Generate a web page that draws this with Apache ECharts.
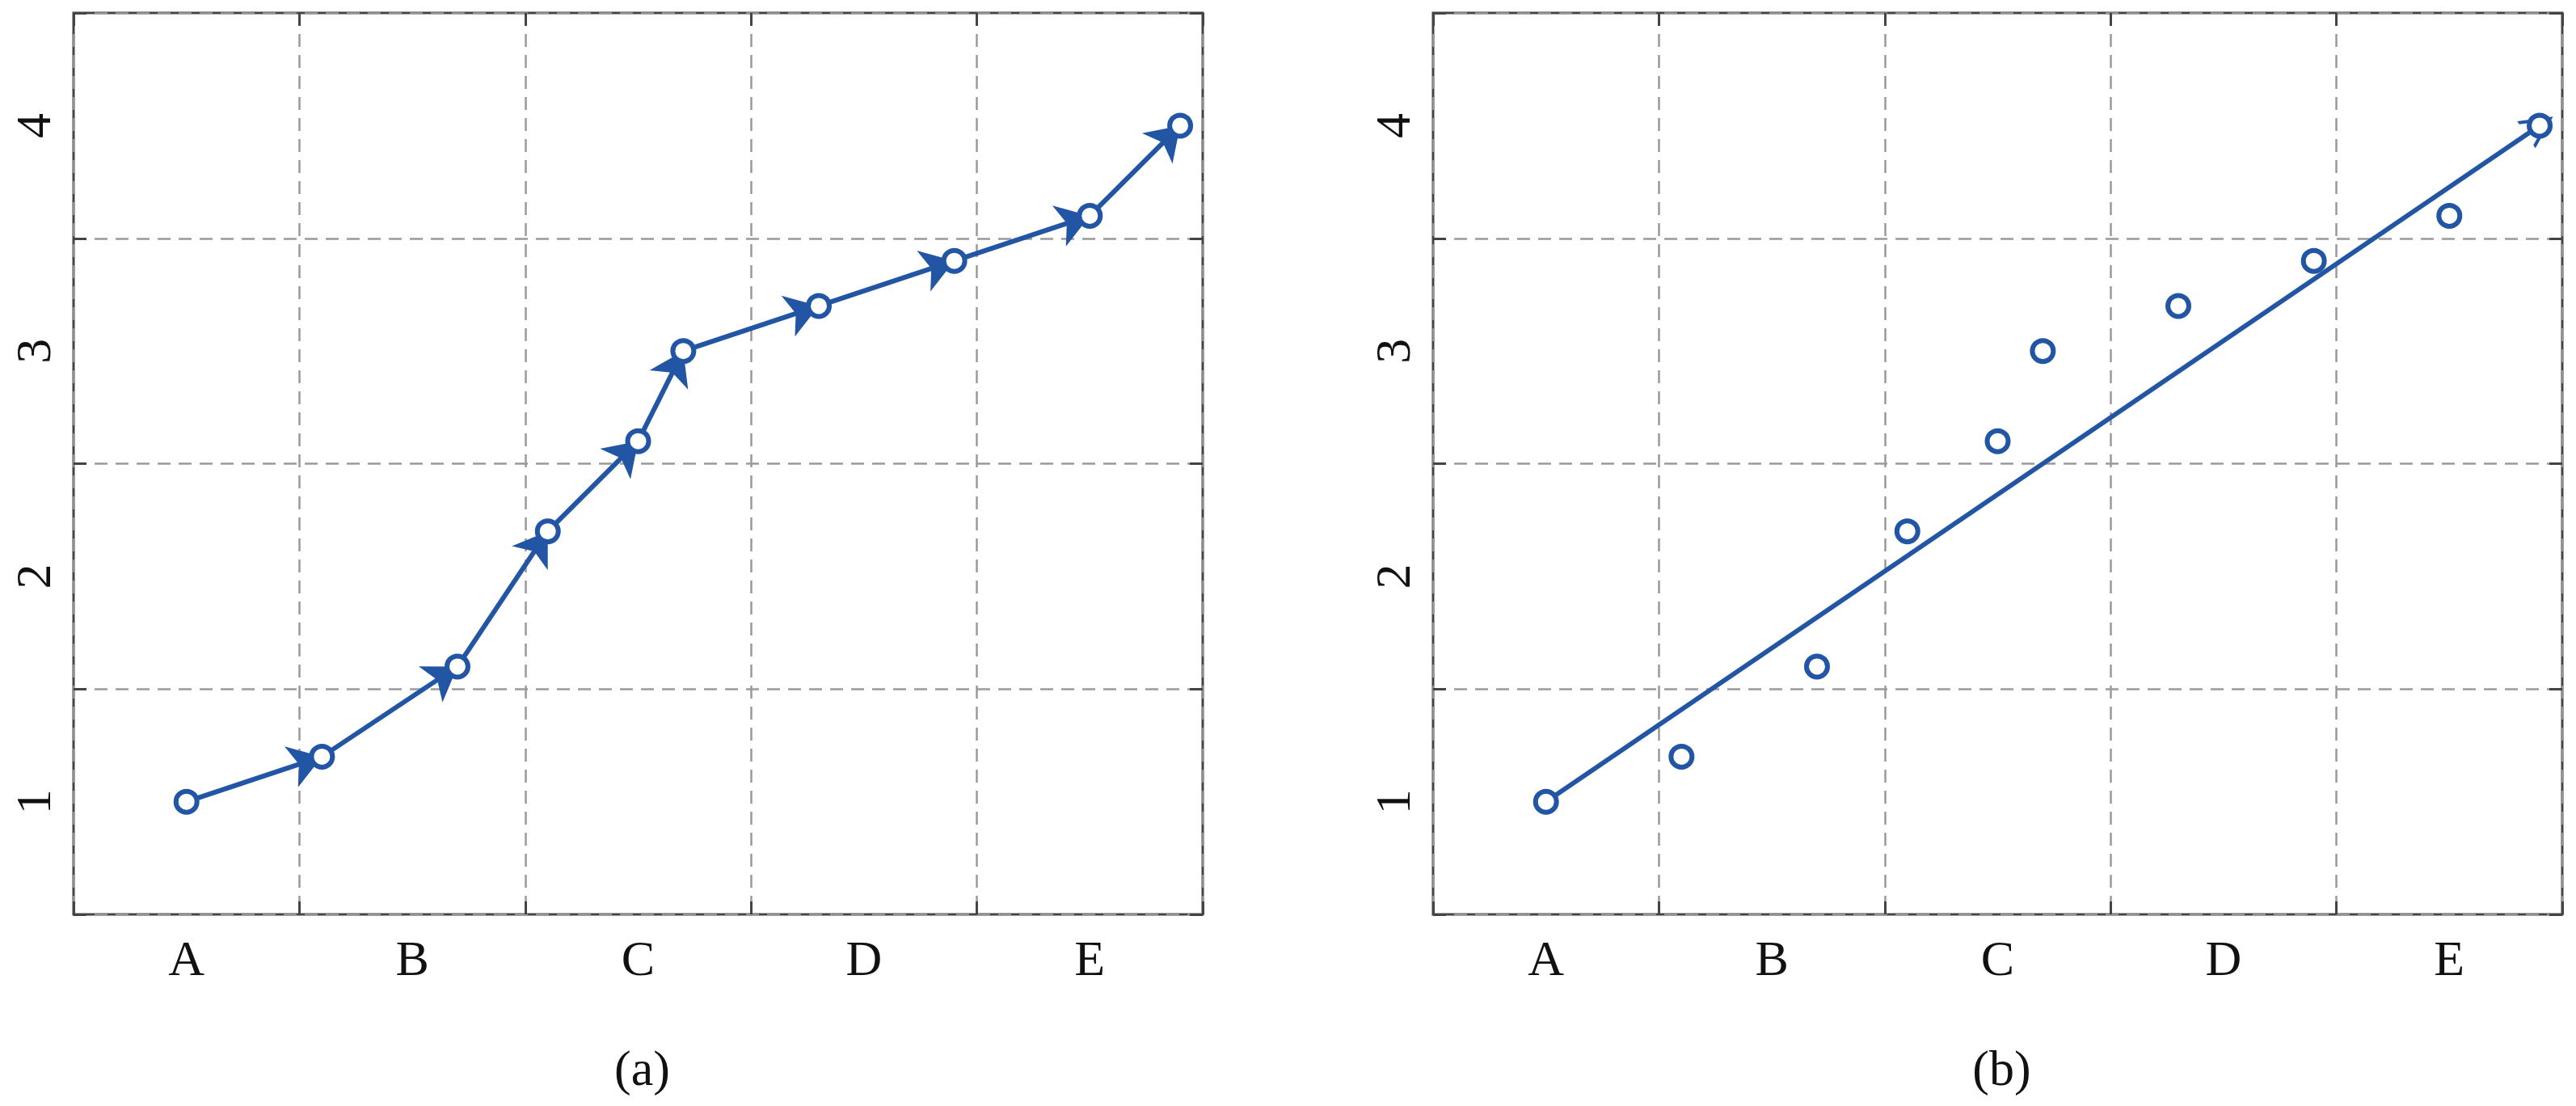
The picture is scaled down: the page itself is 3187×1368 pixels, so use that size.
<!DOCTYPE html>
<html>
<head>
<meta charset="utf-8">
<script src="https://cdn.jsdelivr.net/npm/echarts@6/dist/echarts.min.js"></script>
<style>
  html, body { margin: 0; padding: 0; background: #fff; }
  #chart { width: 3187px; height: 1368px; }
</style>
</head>
<body>
<div id="chart"></div>
<script>
const categories = ['A', 'B', 'C', 'D', 'E'];
const yLabels = ['1', '2', '3', '4'];
const xValues = [0.5, 1.1, 1.7, 2.1, 2.5, 2.7, 3.3, 3.9, 4.5, 4.9];
const yValues = [1.0, 1.2, 1.6, 2.2, 2.6, 3.0, 3.2, 3.4, 3.6, 4.0];
const panelNames = ['(a)', '(b)'];

const blue = '#2255a4';
const font = 'Liberation Serif';
const grids = [
  { left: 91, top: 16, width: 1397, height: 1115 },
  { left: 1773, top: 16, width: 1397, height: 1115 }
];

const points = xValues.map((x, i) => [x, yValues[i]]);
const segs = points.slice(1).map((p, i) => ({ coords: [points[i], p] }));
const fitLine = [{ coords: [points[0], points[points.length - 1]] }];
const openArrow = 'path://M0,0 L11,22 L8.5,22 L0,5 L-8.5,22 L-11,22 Z';

const xAxis = [], yAxis = [], series = [];
grids.forEach((g, gi) => {
  const base = xAxis.length;
  // label / grid axes (category bands)
  xAxis.push({
    type: 'category', gridIndex: gi, data: categories, boundaryGap: true,
    axisLine: { show: false },
    axisTick: { show: true, inside: true, length: 16, lineStyle: { color: '#444', width: 3 } },
    axisLabel: { fontFamily: font, fontSize: 62, color: '#111', margin: 28 },
    splitLine: { show: true, lineStyle: { color: '#9a9a9a', width: 2.5, type: [16, 10] } }
  });
  xAxis.push({
    type: 'category', gridIndex: gi, data: categories, position: 'top', boundaryGap: true,
    axisLine: { show: false }, axisLabel: { show: false },
    axisTick: { show: true, inside: true, length: 16, lineStyle: { color: '#444', width: 3 } }
  });
  xAxis.push({ type: 'value', gridIndex: gi, min: 0, max: 5, show: false });
  yAxis.push({
    type: 'category', gridIndex: gi, data: yLabels, boundaryGap: true,
    axisLine: { show: false },
    axisTick: { show: true, inside: true, length: 16, lineStyle: { color: '#444', width: 3 } },
    axisLabel: { fontFamily: font, fontSize: 62, color: '#111', rotate: 90, margin: 14 },
    splitLine: { show: true, lineStyle: { color: '#9a9a9a', width: 2.5, type: [16, 10] } }
  });
  yAxis.push({
    type: 'category', gridIndex: gi, data: yLabels, position: 'right', boundaryGap: true,
    axisLine: { show: false }, axisLabel: { show: false },
    axisTick: { show: true, inside: true, length: 16, lineStyle: { color: '#444', width: 3 } }
  });
  yAxis.push({ type: 'value', gridIndex: gi, min: 0.5, max: 4.5, show: false });

  series.push({
    type: 'lines', coordinateSystem: 'cartesian2d',
    xAxisIndex: base + 2, yAxisIndex: base + 2, z: 3,
    data: gi === 0 ? segs : fitLine,
    symbol: ['none', gi === 0 ? 'arrow' : openArrow],
    symbolSize: gi === 0 ? [26, 40] : [34, 40],
    lineStyle: { color: blue, width: 6, opacity: 1 }
  });
  series.push({
    type: 'scatter', xAxisIndex: base + 2, yAxisIndex: base + 2, z: 5,
    data: points, symbol: 'circle', symbolSize: 26,
    itemStyle: { color: '#fff', borderColor: blue, borderWidth: 6, opacity: 1 }
  });
});

const chart = echarts.init(document.getElementById('chart'));
chart.setOption({
  animation: false,
  backgroundColor: '#fff',
  grid: grids.map(g => Object.assign({ show: true, borderColor: '#444', borderWidth: 3, backgroundColor: 'transparent' }, g)),
  title: grids.map((g, i) => ({
    text: panelNames[i], left: g.left + g.width / 2, top: 1290, textAlign: 'center',
    textStyle: { fontFamily: font, fontSize: 62, fontWeight: 'normal', color: '#111' }
  })),
  xAxis, yAxis, series
});
</script>
</body>
</html>
